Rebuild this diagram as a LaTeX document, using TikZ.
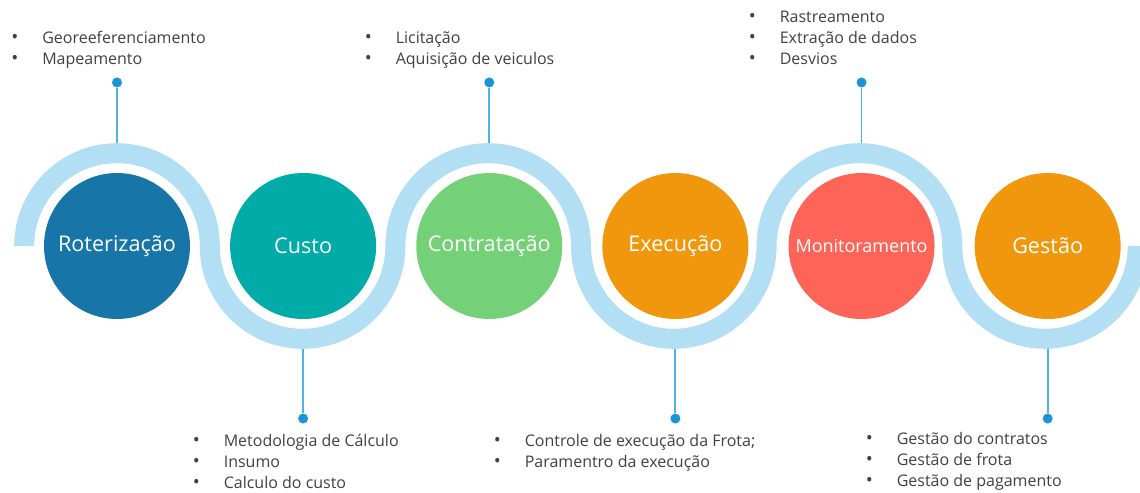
\documentclass[tikz,border=0pt]{standalone}
\usepackage{fontspec}
\setmainfont{Open Sans}
\usetikzlibrary{positioning}

\definecolor{bandblue}{HTML}{B2DFF4}
\definecolor{stemblue}{HTML}{4FB3E6}
\definecolor{dotblue}{HTML}{1B95D5}
\definecolor{rotcol}{HTML}{1776A7}
\definecolor{custocol}{HTML}{01ABA8}
\definecolor{contcol}{HTML}{74D177}
\definecolor{execcol}{HTML}{F0970E}
\definecolor{moncol}{HTML}{FF6459}
\definecolor{listgray}{HTML}{404040}

\newcommand{\itemlist}[1]{{\fontsize{12pt}{15.75pt}\selectfont\begin{tabular}{@{}l@{\hspace{18pt}}l@{}}#1\end{tabular}}}
\newcommand{\bul}{{\fontsize{14pt}{15.75pt}\selectfont\textbullet}}

\begin{document}
\begin{tikzpicture}[x=0.75pt,y=0.75pt,yscale=-1,xscale=1,
    stage/.style={circle, minimum size=109.5pt, inner sep=0pt, text=white, font=\fontsize{16.2}{19}\selectfont},
    dot/.style={circle, fill=dotblue, minimum size=7.5pt, inner sep=0pt},
    stem/.style={stemblue, line width=1.4pt},
    band/.style={bandblue, line width=15pt},
    list/.style={text=listgray, inner sep=0pt, anchor=west}]
        \useasboundingbox (0,0) rectangle (1140,493);

        % Stages
        \node[stage, fill=rotcol] (rot) at (117,246) {Roteriza\c{c}\~ao};
        \node[stage, fill=custocol, right=29.7pt of rot] (cust) {Custo};
        \node[stage, fill=contcol, right=29.7pt of cust] (cont) {Contrata\c{c}\~ao};
        \node[stage, fill=execcol, right=29.7pt of cont] (exec) {Execu\c{c}\~ao};
        \node[stage, fill=moncol, right=29.7pt of exec, font=\fontsize{13.5}{16}\selectfont] (mon) {Monitoramento};
        \node[stage, fill=execcol, right=29.7pt of mon] (gest) {Gest\~ao};

        % Dots and stems
        \node[dot, above=63.75pt of rot] (drot) {};
        \node[dot, above=63.75pt of cont] (dcont) {};
        \node[dot, above=63.75pt of mon] (dmon) {};
        \node[dot, below=70.5pt of cust] (dcust) {};
        \node[dot, below=70.5pt of exec] (dexec) {};
        \node[dot, below=70.5pt of gest] (dgest) {};
        \coordinate (srot) at ([yshift=-17pt]rot.north);
        \coordinate (scont) at ([yshift=-17pt]cont.north);
        \coordinate (smon) at ([yshift=-17pt]mon.north);
        \coordinate (scust) at ([yshift=17pt]cust.south);
        \coordinate (sexec) at ([yshift=17pt]exec.south);
        \coordinate (sgest) at ([yshift=17pt]gest.south);
        \draw[stem] (drot) -- (srot);
        \draw[stem] (dcont) -- (scont);
        \draw[stem] (dmon) -- (smon);
        \draw[stem] (dcust) -- (scust);
        \draw[stem] (dexec) -- (sexec);
        \draw[stem] (dgest) -- (sgest);

        % Wave
        \draw[band] (24.2,246) arc[start angle=180,end angle=360,radius=92.8]
            arc[start angle=180,end angle=0,radius=92.8]
            arc[start angle=180,end angle=360,radius=92.8]
            arc[start angle=180,end angle=0,radius=92.8]
            arc[start angle=180,end angle=360,radius=92.8]
            arc[start angle=180,end angle=0,radius=92.8];

        % Lists
        \node[list] (lrot) at (11,50) {\itemlist{\bul & Georeeferenciamento\\ \bul & Mapeamento}};
        \node[list] (lcont) at (364.5,50) {\itemlist{\bul & Licita\c{c}\~ao\\ \bul & Aquisi\c{c}\~ao de veiculos}};
        \node[list] (lmon) at (748.5,39.5) {\itemlist{\bul & Rastreamento\\ \bul & Extra\c{c}\~ao de dados\\ \bul & Desvios}};
        \node[list] (lcust) at (192.5,463) {\itemlist{\bul & Metodologia de C\'alculo\\ \bul & Insumo\\ \bul & Calculo do custo}};
        \node[list] (lexec) at (493.5,452.5) {\itemlist{\bul & Controle de execu\c{c}\~ao da Frota;\\ \bul & Paramentro da execu\c{c}\~ao}};
        \node[list] (lgest) at (865.5,461.5) {\itemlist{\bul & Gest\~ao do contratos\\ \bul & Gest\~ao de frota\\ \bul & Gest\~ao de pagamento}};
\end{tikzpicture}
\end{document}
